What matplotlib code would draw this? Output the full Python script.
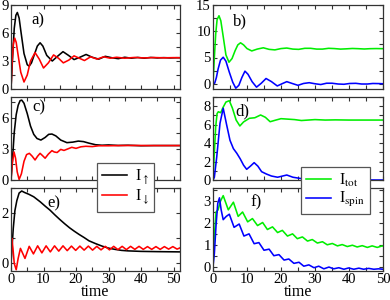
import matplotlib
matplotlib.use("Agg")
import matplotlib.pyplot as plt
from matplotlib.ticker import MultipleLocator

plt.rcParams['font.family'] = ['Liberation Serif', 'DejaVu Serif']
plt.rcParams['mathtext.fontset'] = 'stix'

# ---------------- data ----------------
# panel a
a_up_t = [0, 0.5, 1, 1.5, 1.95, 2.5, 3, 4, 5, 5.6, 6.3, 7.2, 8.1, 8.95, 9.8, 11, 12.7, 14.3, 16, 17.7,
          19.4, 21.2, 23.1, 25, 27, 29, 31, 33, 35, 37, 39, 41, 43, 45, 47, 49, 51, 52]
a_up_v = [0, 3.5, 6.5, 7.9, 8.2, 7.6, 6.3, 3.8, 2.6, 2.45, 2.8, 3.7, 4.6, 4.95, 4.6, 3.6, 3.0, 3.5, 4.0, 3.6,
          3.15, 3.4, 3.7, 3.4, 3.2, 3.5, 3.35, 3.25, 3.4, 3.3, 3.38, 3.3, 3.38, 3.33, 3.36, 3.33, 3.35, 3.35]
a_dn_t = [0, 0.3, 0.7, 1.14, 1.6, 2.2, 3, 4.0, 5, 6, 7.4, 8.7, 10.0, 11.5, 13.1, 14.6, 16.1, 17.8, 19.4,
          21, 22.6, 24.5, 26.5, 28.5, 30.5, 32.5, 35, 38, 41, 44, 47, 50, 52]
a_dn_v = [0, 2.5, 4.8, 5.45, 5.0, 3.6, 1.8, 0.75, 1.5, 3.0, 3.9, 3.2, 2.25, 2.8, 3.65, 3.3, 2.8, 3.1, 3.55,
          3.3, 3.05, 3.45, 3.2, 3.45, 3.3, 3.4, 3.3, 3.38, 3.33, 3.37, 3.34, 3.36, 3.35]

# panel b
b_tot_t = [0, 0.4, 0.8, 1.2, 1.76, 2.3, 3, 3.8, 4.7, 5.6, 6.5, 7.3, 8.1, 9, 10, 11.4, 13, 14.8, 16.5, 18.2,
           20, 21.7, 23.5, 25.2, 27, 28.7, 30.5, 32.2, 34, 35.7, 37.5, 39.2, 41, 42.7, 44.5, 46.2, 48, 50]
b_tot_v = [0, 5, 9.5, 12.2, 12.95, 12, 9, 5.5, 4.1, 4.8, 6.3, 7.4, 7.8, 7.4, 6.7, 6.25, 6.6, 6.85, 6.55, 6.45,
           6.7, 6.8, 6.6, 6.55, 6.75, 6.75, 6.6, 6.6, 6.75, 6.7, 6.6, 6.65, 6.72, 6.68, 6.62, 6.68, 6.7, 6.68]
b_spin_t = [0, 0.5, 1, 1.5, 2.2, 3.0, 3.8, 4.8, 5.8, 6.7, 7.6, 8.5, 9.4, 10.3, 11.5, 12.8, 14.2, 15.6, 17.2,
            18.9, 20.3, 21.7, 23.3, 25, 26.6, 28.3, 30, 31.7, 33.4, 35, 36.8, 38.5, 40.2, 42, 43.7, 45.4,
            47, 48.8, 50]
b_spin_v = [0, 0.1, 1.2, 2.8, 4.5, 5.05, 4.3, 2.2, 0.3, -0.85, -0.3, 1.2, 2.4, 1.8, 0.4, -0.65, 0.1, 1.0, 0.4,
            -0.42, 0.0, 0.4, 0.05, -0.3, 0.05, 0.2, 0.0, -0.15, 0.1, 0.1, -0.05, -0.1, 0.05, 0.08, -0.05, -0.05,
            0.05, 0.03, 0.0]

# panel c
c_up_t = [0, 0.5, 1, 1.6, 2.2, 2.8, 3.3, 4, 5, 6, 7, 8, 9.2, 10.5, 11.6, 12.6, 13.8, 15.3, 17.2, 19, 20.7,
          22.3, 24, 26, 28, 30, 33, 36, 40, 44, 48, 52]
c_up_v = [0, 2.2, 4.6, 6.3, 7.2, 7.65, 7.7, 7.4, 6.4, 5.2, 4.4, 4.0, 3.85, 4.1, 4.4, 4.43, 4.25, 3.85, 3.6,
          3.65, 3.75, 3.7, 3.55, 3.4, 3.35, 3.38, 3.33, 3.35, 3.3, 3.32, 3.32, 3.32]
c_dn_t = [0, 0.4, 0.93, 1.4, 1.9, 2.5, 3.2, 4, 4.8, 5.65, 6.5, 7.4, 8.2, 8.95, 9.7, 10.5, 11.5, 12.6, 13.3,
          14.2, 15.3, 16.3, 17.5, 18.7, 20, 21.5, 23, 25, 27, 30, 34, 38, 42, 46, 50, 52]
c_dn_v = [0, 1.6, 2.7, 2.1, 0.8, 0.05, 0.6, 1.8, 2.45, 2.57, 2.3, 1.93, 2.3, 2.57, 2.35, 2.1, 2.5, 2.83, 2.7,
          2.65, 2.95, 2.85, 3.0, 3.15, 3.05, 3.2, 3.25, 3.22, 3.3, 3.3, 3.32, 3.33, 3.32, 3.32, 3.32, 3.32]

# panel d
d_tot_t = [0, 0.4, 0.8, 1.2, 1.56, 2.26, 3, 3.8, 4.8, 5.7, 6.8, 7.9, 9, 10.7, 12.3, 14, 15.4, 16.8, 18.5,
           20, 22, 24, 26, 28, 30, 33, 36, 40, 44, 48, 50]
d_tot_v = [0, 3, 5.8, 7.2, 7.4, 7.3, 7.9, 8.45, 8.6, 7.8, 6.5, 5.86, 6.3, 6.69, 6.75, 7.05, 6.8, 6.32, 6.5,
           6.65, 6.6, 6.55, 6.45, 6.5, 6.55, 6.5, 6.52, 6.5, 6.5, 6.5, 6.5]
d_spin_t = [0, 0.4, 1.1, 2.06, 3.0, 4, 5, 6, 7, 8, 9, 9.9, 11, 12.1, 13.2, 14.3, 15.7, 17.2, 19, 21.7, 23.5,
            26, 28, 30, 33, 36, 40, 44, 48, 50]
d_spin_v = [0, 0.3, 2.5, 6.15, 7.78, 6.0, 4.3, 3.4, 2.9, 2.3, 1.6, 1.16, 1.5, 1.88, 1.5, 0.9, 0.65, 0.43, 0.3,
            0.54, 0.3, 0.15, 0.1, 0.1, 0.05, 0.02, 0.02, 0.02, 0.0, 0.0]

# panel e
e_up_t = [0, 0.3, 0.7, 1.2, 1.8, 2.5, 3.3, 4.2, 5.5, 7, 8, 9, 10.5, 12, 13.5, 15, 16.5, 18, 19.5, 21, 22.5,
          24, 26, 28, 30, 32, 34, 36, 40, 45, 52]
e_up_v = [0, 0.6, 1.4, 2.1, 2.5, 2.8, 2.88, 2.82, 2.75, 2.65, 2.55, 2.45, 2.28, 2.12, 1.93, 1.75, 1.58, 1.42,
          1.28, 1.15, 1.03, 0.9, 0.79, 0.69, 0.61, 0.56, 0.52, 0.5, 0.48, 0.47, 0.46]
e_dn_t = [0, 0.25, 0.6, 1.0, 1.6, 2.2, 2.9, 3.6, 4.3, 5.6, 6.9, 8.2, 9.5, 10.8, 12.1, 13.4, 14.7, 16.0, 17.3,
          18.6, 19.9, 21.2, 22.5, 23.8, 25.1, 26.4, 27.7, 29.0, 30.3, 31.6, 32.9, 34.2, 35.5, 36.8, 38.1,
          39.4, 40.7, 42.0, 43.3, 44.6, 45.9, 47.2, 48.5, 49.8, 51.1, 52]
e_dn_v = [0, 1.0, 0.6, 0.0, -0.25, 0.2, 0.6, 0.4, 0.2, 0.68, 0.38, 0.7, 0.42, 0.7, 0.46, 0.7, 0.49, 0.7,
          0.51, 0.69, 0.52, 0.69, 0.53, 0.69, 0.53, 0.68, 0.54, 0.68, 0.54, 0.68, 0.55, 0.68, 0.55, 0.68, 0.56,
          0.68, 0.56, 0.67, 0.56, 0.67, 0.56, 0.67, 0.57, 0.67, 0.57, 0.62]

# panel f
f_tot_t = [0, 0.3, 0.9, 1.5, 2.2, 3.0, 4.5, 6.0, 7.4, 8.7, 10.2, 11.6, 13.1, 14.6, 16.0, 17.5, 19.0, 20.4,
           21.9, 23.4, 24.8, 26.3, 27.8, 29.2, 30.7, 32.2, 33.6, 35.1, 36.6, 38.0, 39.5, 41.0, 42.4, 43.9,
           45.4, 46.8, 48.3, 49.8, 50]
f_tot_v = [0, 1.2, 2.5, 2.6, 3.0, 3.25, 2.6, 2.95, 2.3, 2.5, 2.05, 2.2, 1.88, 2.02, 1.7, 1.82, 1.56, 1.66,
           1.4, 1.5, 1.28, 1.36, 1.17, 1.24, 1.08, 1.14, 1.0, 1.06, 0.95, 1.01, 0.92, 0.98, 0.9, 0.96, 0.88,
           0.95, 0.88, 0.95, 0.94]
f_spin_t = [0, 0.4, 0.9, 1.4, 1.9, 2.4, 3.0, 3.9, 4.8, 6.2, 7.7, 9.1, 10.6, 12.1, 13.5, 15.0, 16.5, 17.9,
            19.4, 20.9, 22.3, 23.8, 25.3, 26.7, 28.2, 29.7, 31.1, 32.6, 34.1, 35.5, 37.0, 38.5, 39.9, 41.4,
            42.9, 44.3, 45.8, 47.3, 48.7, 50]
f_spin_v = [0, 0.6, 1.9, 2.9, 3.15, 2.6, 2.15, 2.3, 2.4, 1.8, 1.95, 1.4, 1.5, 1.05, 1.1, 0.75, 0.8, 0.5,
            0.55, 0.3, 0.35, 0.15, 0.2, 0.02, 0.08, -0.05, 0.02, -0.1, -0.02, -0.1, -0.05, -0.12, -0.06,
            -0.12, -0.07, -0.12, -0.08, -0.12, -0.1, -0.12]

panel_labels = ['a)', 'b)', 'c)', 'd)', 'e)', 'f)']
left_names = [r'I$_{\uparrow}$', r'I$_{\downarrow}$']
right_names = [r'I$_{\rm tot}$', r'I$_{\rm spin}$']

# ---------------- figure ----------------
W, H = 390, 300
fig = plt.figure(figsize=(W / 100, H / 100), dpi=100)

def ax_at(x0, y0, x1, y1):
    return fig.add_axes([x0 / W, 1 - y1 / H, (x1 - x0) / W, (y1 - y0) / H])

rows = [(5, 89), (97, 180), (188, 271)]
axes = []
for (y0, y1) in rows:
    axes.append(ax_at(11, y0, 180, y1))
    axes.append(ax_at(213, y0, 383, y1))

BLK, RED, GRN, BLU = 'black', '#ff0000', '#00ee00', '#0000ff'
lw = 1.15

axes[0].plot(a_up_t, a_up_v, color=BLK, lw=lw)
axes[0].plot(a_dn_t, a_dn_v, color=RED, lw=lw)
axes[1].plot(b_tot_t, b_tot_v, color=GRN, lw=lw)
axes[1].plot(b_spin_t, b_spin_v, color=BLU, lw=lw)
l1, = axes[2].plot(c_up_t, c_up_v, color=BLK, lw=lw)
l2, = axes[2].plot(c_dn_t, c_dn_v, color=RED, lw=lw)
r1, = axes[3].plot(d_tot_t, d_tot_v, color=GRN, lw=lw)
r2, = axes[3].plot(d_spin_t, d_spin_v, color=BLU, lw=lw)
axes[4].plot(e_up_t, e_up_v, color=BLK, lw=lw)
axes[4].plot(e_dn_t, e_dn_v, color=RED, lw=lw)
axes[5].plot(f_tot_t, f_tot_v, color=GRN, lw=lw)
axes[5].plot(f_spin_t, f_spin_v, color=BLU, lw=lw)

ylims = [(0, 9), (-1, 15), (0, 8), (0, 9), (-0.3, 3), (-0.2, 3.6)]
ymaj = [3, 5, 3, 2, 2, 1]
ymin = [1.5, 2.5, 1.5, 1, 1, 0.5]
lab_pos = [(0.118, 0.82), (0.118, 0.81), (0.124, 0.87), (0.13, 0.83), (0.213, 0.82), (0.218, 0.83)]

for i, ax in enumerate(axes):
    left = (i % 2 == 0)
    ax.set_xlim(0, 52 if left else 50)
    ax.set_ylim(*ylims[i])
    ax.xaxis.set_major_locator(MultipleLocator(10))
    ax.xaxis.set_minor_locator(MultipleLocator(5))
    ax.yaxis.set_major_locator(MultipleLocator(ymaj[i]))
    ax.yaxis.set_minor_locator(MultipleLocator(ymin[i]))
    ax.tick_params(which='both', direction='in', top=True, right=True, length=3.2, width=0.8,
                   labelsize=10.5, pad=1.5, color='#333333')
    for s in ax.spines.values():
        s.set_linewidth(0.9)
        s.set_color('#333333')
    if i < 4:
        ax.tick_params(labelbottom=False)
    else:
        ax.set_xlabel('time', fontsize=11.5, labelpad=-1.5)
    ax.text(lab_pos[i][0], lab_pos[i][1], panel_labels[i], transform=ax.transAxes,
            ha='left', va='center', fontsize=12)

leg_kw = dict(loc='upper left', fontsize=11.5, frameon=True, fancybox=False, framealpha=1,
              edgecolor='#555555', borderaxespad=0, handlelength=1.6, handletextpad=0.5,
              borderpad=0.3, labelspacing=0.1, handleheight=0.8)
lg1 = fig.legend([l1, l2], left_names, bbox_to_anchor=(97 / W, 1 - 163 / H), **leg_kw)
lg2 = fig.legend([r1, r2], right_names, bbox_to_anchor=(301 / W, 1 - 167 / H), **leg_kw)
for lg in (lg1, lg2):
    lg.get_frame().set_linewidth(0.9)

fig.savefig('out.png', dpi=100)
